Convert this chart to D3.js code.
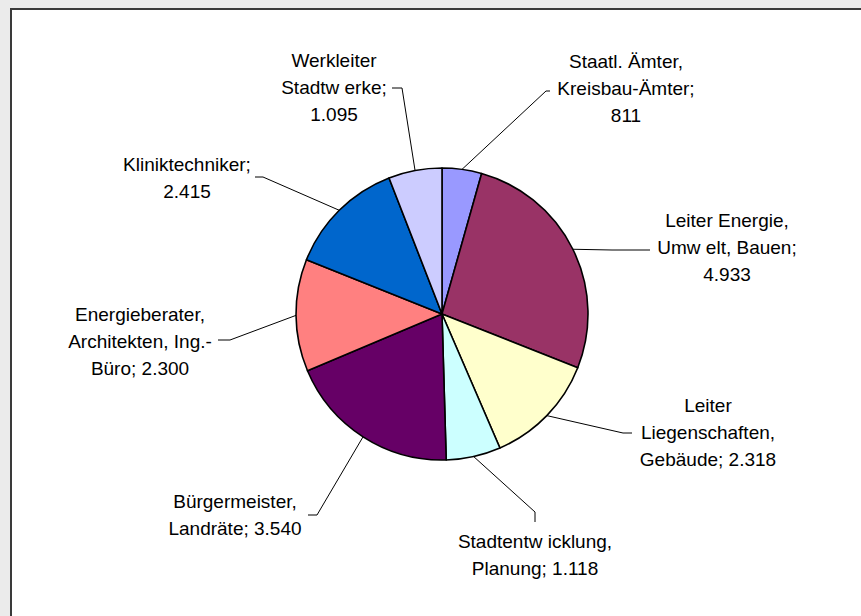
<!DOCTYPE html>
<html>
<head>
<meta charset="utf-8">
<script src="https://cdn.jsdelivr.net/npm/d3@7"></script>
<style>
  body { margin: 0; background: #ebebeb; }
  svg { display: block; }
  text { font-family: "Liberation Sans", Arial, sans-serif; font-size: 19px; fill: #000; }
</style>
</head>
<body>
<svg id="chart"></svg>
<script>
// data, clockwise from 12 o'clock
const categories = [
  'Staatl. Ämter,\nKreisbau-Ämter',
  'Leiter Energie,\nUmw elt, Bauen',
  'Leiter\nLiegenschaften,\nGebäude',
  'Stadtentw icklung,\nPlanung',
  'Bürgermeister,\nLandräte',
  'Energieberater,\nArchitekten, Ing.-\nBüro',
  'Kliniktechniker',
  'Werkleiter\nStadtw erke'
];
const values = [811, 4933, 2318, 1118, 3540, 2300, 2415, 1095];
const colors = ['#9999ff', '#993366', '#ffffcc', '#ccffff', '#660066', '#ff8080', '#0066cc', '#ccccff'];
// value on its own line or after "; "
const valueNewLine = [true, true, false, false, false, false, true, true];

// label layout: text centre x, first baseline y, leader elbow and end
const labelLayout = [
  { x: 626, y: 68, elbow: [546, 91], end: [550, 91] },
  { x: 727, y: 227, elbow: [612, 250], end: [650, 250] },
  { x: 708, y: 412, elbow: [623, 433], end: [632, 433] },
  { x: 535, y: 548, elbow: [535, 512], end: [535, 522] },
  { x: 235, y: 508, elbow: [317, 515], end: [308, 515] },
  { x: 140, y: 321, elbow: [230, 340], end: [218, 340] },
  { x: 187, y: 171, elbow: [263, 177], end: [255, 177] },
  { x: 334, y: 67, elbow: [402, 88], end: [392, 88] }
];

const width = 861;
const height = 616;
const cx = 442, cy = 314, radius = 146;
const lineHeight = 27;

const de = d3.formatLocale({ decimal: ',', thousands: '.', grouping: [3], currency: ['', ' €'] });
const fmt = de.format(',d');

const svg = d3.select('#chart')
  .attr('width', width)
  .attr('height', height);

// chart area frame
svg.append('rect')
  .attr('x', 11)
  .attr('y', 9)
  .attr('width', width + 20)
  .attr('height', height + 20)
  .attr('fill', '#fff')
  .attr('stroke', '#3a3a3a')
  .attr('stroke-width', 2);

const pie = d3.pie().sort(null).value(d => d);
const arcs = pie(values);

const arc = d3.arc().innerRadius(0).outerRadius(radius);
const edge = d3.arc().innerRadius(radius).outerRadius(radius);

const g = svg.append('g').attr('transform', `translate(${cx},${cy})`);

g.selectAll('path.slice')
  .data(arcs)
  .enter()
  .append('path')
  .attr('class', 'slice')
  .attr('d', arc)
  .attr('fill', (d, i) => colors[i])
  .attr('stroke', '#000')
  .attr('stroke-width', 1.6)
  .attr('stroke-linejoin', 'round');

// leader lines
svg.selectAll('path.leader')
  .data(arcs)
  .enter()
  .append('path')
  .attr('class', 'leader')
  .attr('d', (d, i) => {
    const p = edge.centroid(d);
    const L = labelLayout[i];
    return d3.line()([[cx + p[0], cy + p[1]], L.elbow, L.end]);
  })
  .attr('fill', 'none')
  .attr('stroke', '#000')
  .attr('stroke-width', 1);

// labels
const labels = svg.selectAll('text.label')
  .data(arcs)
  .enter()
  .append('text')
  .attr('class', 'label')
  .attr('text-anchor', 'middle');

labels.each(function (d, i) {
  const txt = categories[i] + ';' + (valueNewLine[i] ? '\n' : ' ') + fmt(values[i]);
  const lines = txt.split('\n');
  d3.select(this).selectAll('tspan')
    .data(lines)
    .enter()
    .append('tspan')
    .attr('x', labelLayout[i].x)
    .attr('y', (s, k) => labelLayout[i].y + k * lineHeight)
    .text(s => s);
});
</script>
</body>
</html>
